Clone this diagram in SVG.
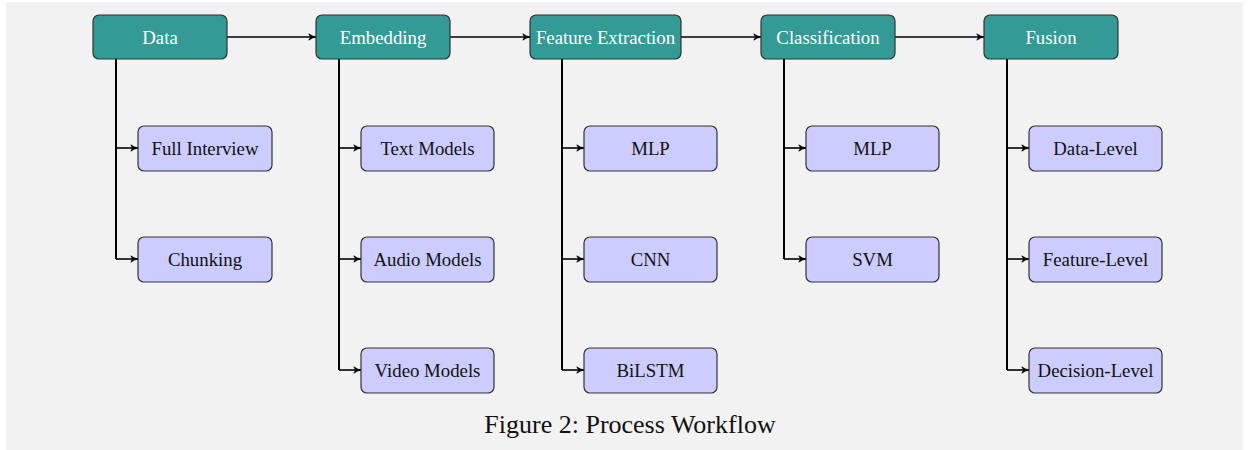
<svg xmlns="http://www.w3.org/2000/svg" width="1249" height="450" viewBox="0 0 1249 450">
<style>
.top rect{fill:#339a96;stroke:#333;stroke-width:1.2}
.top text{fill:#fff;font-family:"Liberation Serif",serif;font-size:18.8px;text-anchor:middle}
.sub rect{fill:#ccccff;stroke:#333;stroke-width:1.2}
.sub text{fill:#111;font-family:"Liberation Serif",serif;font-size:18.8px;text-anchor:middle}
.trunk{fill:none;stroke:#000;stroke-width:2}
.arr{fill:none;stroke:#000;stroke-width:1.6;marker-end:url(#ah)}
.cap{font-family:"Liberation Serif",serif;font-size:26px;text-anchor:middle;fill:#111}
</style>
<defs>
<marker id="ah" viewBox="0 0 10 10" refX="9" refY="5" markerWidth="9" markerHeight="9" orient="auto" markerUnits="userSpaceOnUse">
<path d="M1,1.5 Q5,4.5 9.5,5 Q5,5.5 1,8.5 L3,5 Z" fill="#000" stroke="#000" stroke-width="0.8"/>
</marker>
</defs>
<rect x="6" y="2" width="1237" height="448" fill="#f2f2f2"/>
<g id="connectors">
<path class="arr" d="M227,37 H316"/>
<path class="arr" d="M450,37 H530"/>
<path class="arr" d="M681,37 H761"/>
<path class="arr" d="M895,37 H984"/>
<path class="trunk" d="M116,59 V259"/>
<path class="arr" d="M116,148 H138"/>
<path class="arr" d="M116,259 H138"/>
<path class="trunk" d="M339,59 V370"/>
<path class="arr" d="M339,148 H361"/>
<path class="arr" d="M339,259 H361"/>
<path class="arr" d="M339,370 H361"/>
<path class="trunk" d="M562,59 V370"/>
<path class="arr" d="M562,148 H584"/>
<path class="arr" d="M562,259 H584"/>
<path class="arr" d="M562,370 H584"/>
<path class="trunk" d="M784,59 V259"/>
<path class="arr" d="M784,148 H806"/>
<path class="arr" d="M784,259 H806"/>
<path class="trunk" d="M1007,59 V370"/>
<path class="arr" d="M1007,148 H1029"/>
<path class="arr" d="M1007,259 H1029"/>
<path class="arr" d="M1007,370 H1029"/>
</g>
<g id="data" class="top"><rect x="93" y="15" width="134" height="44" rx="6"/><text x="160" y="43.5">Data</text></g>
<g id="embedding" class="top"><rect x="316" y="15" width="134" height="44" rx="6"/><text x="383" y="43.5">Embedding</text></g>
<g id="feature-extraction" class="top"><rect x="530" y="15" width="151" height="44" rx="6"/><text x="605.5" y="43.5">Feature Extraction</text></g>
<g id="classification" class="top"><rect x="761" y="15" width="134" height="44" rx="6"/><text x="828" y="43.5">Classification</text></g>
<g id="fusion" class="top"><rect x="984" y="15" width="134" height="44" rx="6"/><text x="1051" y="43.5">Fusion</text></g>
<g id="full-interview" class="sub"><rect x="138" y="126" width="134" height="45" rx="6"/><text x="205" y="154.5">Full Interview</text></g>
<g id="chunking" class="sub"><rect x="138" y="237" width="134" height="45" rx="6"/><text x="205" y="265.5">Chunking</text></g>
<g id="text-models" class="sub"><rect x="361" y="126" width="133" height="45" rx="6"/><text x="427.5" y="154.5">Text Models</text></g>
<g id="audio-models" class="sub"><rect x="361" y="237" width="133" height="45" rx="6"/><text x="427.5" y="265.5">Audio Models</text></g>
<g id="video-models" class="sub"><rect x="361" y="348" width="133" height="45" rx="6"/><text x="427.5" y="376.5">Video Models</text></g>
<g id="fe-mlp" class="sub"><rect x="584" y="126" width="133" height="45" rx="6"/><text x="650.5" y="154.5">MLP</text></g>
<g id="fe-cnn" class="sub"><rect x="584" y="237" width="133" height="45" rx="6"/><text x="650.5" y="265.5">CNN</text></g>
<g id="fe-bilstm" class="sub"><rect x="584" y="348" width="133" height="45" rx="6"/><text x="650.5" y="376.5">BiLSTM</text></g>
<g id="cl-mlp" class="sub"><rect x="806" y="126" width="133" height="45" rx="6"/><text x="872.5" y="154.5">MLP</text></g>
<g id="cl-svm" class="sub"><rect x="806" y="237" width="133" height="45" rx="6"/><text x="872.5" y="265.5">SVM</text></g>
<g id="data-level" class="sub"><rect x="1029" y="126" width="133" height="45" rx="6"/><text x="1095.5" y="154.5">Data-Level</text></g>
<g id="feature-level" class="sub"><rect x="1029" y="237" width="133" height="45" rx="6"/><text x="1095.5" y="265.5">Feature-Level</text></g>
<g id="decision-level" class="sub"><rect x="1029" y="348" width="133" height="45" rx="6"/><text x="1095.5" y="376.5">Decision-Level</text></g>
<text class="cap" x="630" y="433">Figure 2: Process Workflow</text>
</svg>
